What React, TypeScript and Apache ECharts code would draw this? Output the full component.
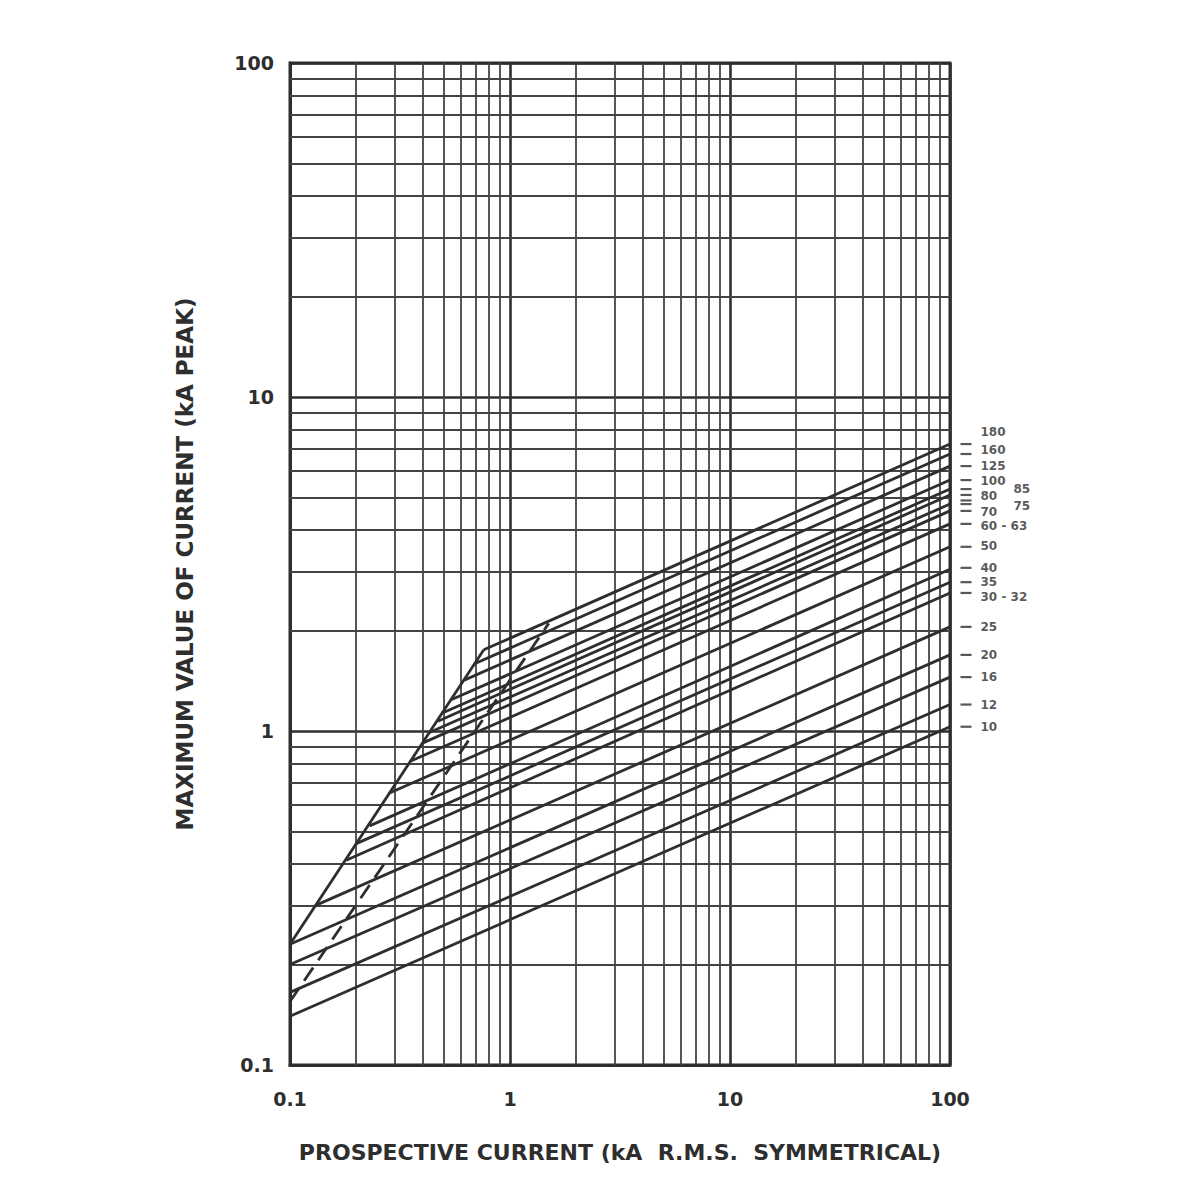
import React, { useEffect, useRef } from "react";
import * as echarts from "echarts";

// ---- Data ----
const ratings = ["10", "12", "16", "20", "25", "30-32", "35", "40", "50", "60-63", "70", "75", "80", "85", "100", "125", "160", "180"];
// start point of each fuse cut-off line (kA rms, kA peak)
const startX = [0.1, 0.1, 0.1, 0.1, 0.13, 0.18, 0.2, 0.23, 0.28, 0.35, 0.4, 0.43, 0.47, 0.49, 0.54, 0.62, 0.69, 0.76];
const startY = [0.14, 0.165, 0.2, 0.23, 0.3, 0.41, 0.46, 0.52, 0.65, 0.81, 0.92, 0.99, 1.07, 1.13, 1.24, 1.42, 1.59, 1.75];
// end point at 100 kA rms
const endX = 100;
const endY = [1.03, 1.2, 1.45, 1.69, 2.05, 2.59, 2.79, 3.05, 3.56, 4.17, 4.56, 4.78, 5.09, 5.3, 5.64, 6.21, 6.75, 7.23];

// envelope (solid) and symmetrical peak (dashed)
const envelopeX = [0.1, 0.76];
const envelopeY = [0.23, 1.75];
const dashedX = [0.1, 1.5];
const dashedY = [0.155, 2.1];

// right-hand rating labels
const labelTexts = ["180", "160", "125", "100", "80", "70", "60 - 63", "50", "40", "35", "30 - 32", "25", "20", "16", "12", "10"];
const labelValues = [7.86, 6.94, 6.21, 5.6, 5.05, 4.52, 4.11, 3.58, 3.08, 2.79, 2.52, 2.05, 1.69, 1.45, 1.2, 1.03];
const label2Texts = ["85", "75"];
const label2Values = [5.3, 4.72];
const tickValues = [7.23, 6.75, 6.21, 5.64, 5.3, 5.09, 4.9, 4.78, 4.56, 4.17, 3.56, 3.08, 2.79, 2.59, 2.05, 1.69, 1.45, 1.2, 1.03];

// axes
const xTickLabels = ["0.1", "1", "10", "100"];
const yTickLabels = ["0.1", "1", "10", "100"];
const minorGrid = [0.2, 0.3, 0.4, 0.5, 0.6, 0.7, 0.8, 0.9, 2, 3, 4, 5, 6, 7, 8, 9, 20, 30, 40, 50, 60, 70, 80, 90];

const FONT = "DejaVu Sans, Verdana, sans-serif";
const INK = "#2e2e2e";

export default function App() {
  const ref = useRef<HTMLDivElement>(null);
  useEffect(() => {
    document.body.style.margin = "0";
    if (!ref.current) return;
    const chart = echarts.init(ref.current, undefined, { renderer: "svg" });

    const fuseSeries = ratings.map((r, i) => ({
      name: r,
      type: "line",
      z: 5,
      symbol: "none",
      silent: true,
      lineStyle: { color: INK, width: 2.8 },
      data: [
        [startX[i], startY[i]],
        [endX, endY[i]],
      ],
    }));

    const labelStyle = {
      show: true,
      position: "right",
      color: INK,
      fontSize: 12,
      fontWeight: "bold",
      fontFamily: FONT,
    };

    const option: any = {
      animation: false,
      backgroundColor: "#fff",
      grid: {
        left: 290,
        right: 250,
        top: 63,
        bottom: 135,
        show: true,
        borderColor: INK,
        borderWidth: 3,
        backgroundColor: "transparent",
      },
      xAxis: {
        type: "log",
        logBase: 10,
        min: 0.1,
        max: 100,
        axisLine: { show: true, lineStyle: { color: INK, width: 3 } },
        axisTick: { show: false },
        splitLine: { show: true, lineStyle: { color: INK, width: 2.6 } },
        axisLabel: {
          color: INK,
          fontSize: 19,
          fontWeight: "bold",
          fontFamily: FONT,
          margin: 24,
          formatter: (v: number) => xTickLabels[Math.round(Math.log10(v)) + 1] ?? "",
        },
        name: "PROSPECTIVE CURRENT (kA  R.M.S.  SYMMETRICAL)",
        nameLocation: "middle",
        nameGap: 76,
        nameTextStyle: { color: INK, fontSize: 22, fontWeight: "bold", fontFamily: FONT },
      },
      yAxis: {
        type: "log",
        logBase: 10,
        min: 0.1,
        max: 100,
        axisLine: { show: true, lineStyle: { color: INK, width: 3 } },
        axisTick: { show: false },
        splitLine: { show: true, lineStyle: { color: INK, width: 2.6 } },
        axisLabel: {
          color: INK,
          fontSize: 19,
          fontWeight: "bold",
          fontFamily: FONT,
          margin: 16,
          formatter: (v: number) => yTickLabels[Math.round(Math.log10(v)) + 1] ?? "",
        },
        name: "MAXIMUM VALUE OF CURRENT (kA PEAK)",
        nameLocation: "middle",
        nameGap: 94,
        nameRotate: 90,
        nameTextStyle: { color: INK, fontSize: 23, fontWeight: "bold", fontFamily: FONT },
      },
      series: [
        {
          name: "grid",
          type: "line",
          z: 1,
          symbol: "none",
          silent: true,
          lineStyle: { width: 0, opacity: 0 },
          data: [[0.1, 0.1]],
          markLine: {
            silent: true,
            symbol: ["none", "none"],
            label: { show: false },
            animation: false,
            lineStyle: { type: "solid", color: "#444", width: 1.8 },
            data: [
              ...minorGrid.map((v) => ({ xAxis: v })),
              ...minorGrid.map((v) => ({ yAxis: v })),
            ],
          },
        },
        ...fuseSeries,
        {
          name: "envelope",
          type: "line",
          z: 5,
          symbol: "none",
          silent: true,
          lineStyle: { color: INK, width: 2.8 },
          data: envelopeX.map((x, i) => [x, envelopeY[i]]),
        },
        {
          name: "symmetrical",
          type: "line",
          z: 5,
          symbol: "none",
          silent: true,
          lineStyle: { color: INK, width: 2.8, type: [16, 9] },
          data: dashedX.map((x, i) => [x, dashedY[i]]),
        },
        {
          name: "ticks",
          type: "scatter",
          z: 6,
          clip: false,
          silent: true,
          symbol: "rect",
          symbolSize: [11, 2.2],
          symbolOffset: [16, 0],
          itemStyle: { color: INK },
          data: tickValues.map((v) => [endX, v]),
        },
        {
          name: "labels",
          type: "scatter",
          z: 6,
          clip: false,
          silent: true,
          symbol: "circle",
          symbolSize: 1,
          itemStyle: { color: "rgba(0,0,0,0)" },
          label: {
            ...labelStyle,
            distance: 30,
            formatter: (p: any) => labelTexts[p.dataIndex],
          },
          data: labelValues.map((v) => [endX, v]),
        },
        {
          name: "labels2",
          type: "scatter",
          z: 6,
          clip: false,
          silent: true,
          symbol: "circle",
          symbolSize: 1,
          itemStyle: { color: "rgba(0,0,0,0)" },
          label: {
            ...labelStyle,
            distance: 63,
            formatter: (p: any) => label2Texts[p.dataIndex],
          },
          data: label2Values.map((v) => [endX, v]),
        },
      ],
    };

    chart.setOption(option);
    return () => chart.dispose();
  }, []);

  return <div ref={ref} style={{ width: 1200, height: 1200 }} />;
}
